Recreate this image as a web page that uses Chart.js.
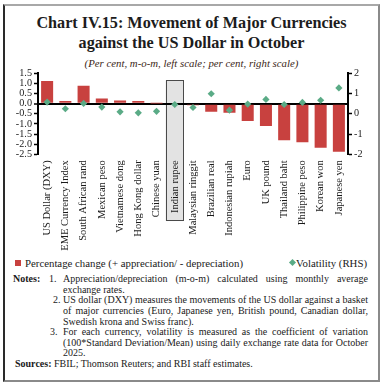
<!DOCTYPE html>
<html>
<head>
<meta charset="utf-8">
<script src="https://cdn.jsdelivr.net/npm/chart.js@4/dist/chart.umd.min.js"></script>
<style>
  html, body { margin:0; padding:0; background:#fff; overflow:hidden; }
  body { width:383px; height:385px; position:relative; font-family:"Liberation Serif", serif; color:#1a1a1a; }
  .frame { position:absolute; left:3px; top:4px; width:373px; height:374px;
    border-style:solid; border-width:2px; border-color:#a8a8a8 #8a8a8a #8a8a8a #2a2a2a; }
  .title { position:absolute; left:0; width:383px; text-align:center; font-weight:bold; font-size:16.2px; line-height:20px; color:#1c1c1c; }
  .sub { position:absolute; left:0; width:383px; top:57px; text-align:center; font-style:italic; font-size:10.8px; line-height:12px; color:#3b2616; }
  #wrap { position:absolute; left:0; top:66px; width:383px; height:190px; }
  .leg { position:absolute; font-size:10.8px; line-height:12px; white-space:nowrap; }
  .sq { position:absolute; left:15px; top:259.5px; width:6px; height:6px; background:#c8413f; }
  .dia { position:absolute; left:289.5px; top:259.5px; width:5px; height:5px; background:#5aab86; transform:rotate(45deg); }
  .notes { position:absolute; left:15px; top:274.2px; width:353px; font-size:10px; line-height:10.6px; }
  .row { position:relative; padding-left:48px; }
  .row .ln { text-align:justify; text-align-last:justify; white-space:nowrap; }
  .row .ln.last { text-align-last:left; }
  .lab { position:absolute; left:-2px; top:0; font-weight:bold; }
  .num { position:absolute; top:0; }
</style>
</head>
<body>
<div class="frame"></div>
<div class="title" style="top:13px;">Chart IV.15: Movement of Major Currencies</div>
<div class="title" style="top:33px;">against the US Dollar in October</div>
<div class="sub">(Per cent, m-o-m, left scale; per cent, right scale)</div>
<div id="wrap"><canvas id="c" width="383" height="190"></canvas></div>
<div class="sq"></div>
<div class="leg" style="left:25px; top:256.5px;">Percentage change (+ appreciation/ - depreciation)</div>
<div class="dia"></div>
<div class="leg" style="right:16px; top:256.5px;">Volatility (RHS)</div>
<div class="notes">
  <div class="row"><span class="lab">Notes:</span><span class="num" style="left:34px;">1.</span>
    <div class="ln">Appreciation/depreciation (m-o-m) calculated using monthly average</div>
    <div class="ln last">exchange rates.</div></div>
  <div class="row"><span class="num" style="left:38px;">2.</span>
    <div class="ln">US dollar (DXY) measures the movements of the US dollar against a basket</div>
    <div class="ln">of major currencies (Euro, Japanese yen, British pound, Canadian dollar,</div>
    <div class="ln last">Swedish krona and Swiss franc).</div></div>
  <div class="row"><span class="num" style="left:35px;">3.</span>
    <div class="ln">For each currency, volatility is measured as the coefficient of variation</div>
    <div class="ln">(100*Standard Deviation/Mean) using daily exchange rate data for October</div>
    <div class="ln last">2025.</div></div>
  <div style="white-space:nowrap;"><b>Sources:</b> FBIL; Thomson Reuters; and RBI staff estimates.</div>
</div>
<script>
const categories = ["US Dollar (DXY)", "EME Currency Index", "South African rand", "Mexican peso",
  "Vietnamese dong", "Hong Kong dollar", "Chinese yuan", "Indian rupee", "Malaysian ringgit",
  "Brazilian real", "Indonesian rupiah", "Euro", "UK pound", "Thailand baht", "Philippine peso",
  "Korean won", "Japanese yen"];
const pctChange = [1.12, 0.13, 0.88, 0.26, 0.16, 0.13, 0.01, -0.05, -0.08, -0.40, -0.45, -0.86, -1.10, -1.80, -1.90, -2.18, -2.37];
const volatility = [0.58, 0.25, 0.51, 0.33, 0.10, 0.05, 0.12, 0.46, 0.31, 0.99, 0.18, 0.48, 0.71, 0.46, 0.56, 0.67, 1.28];
const leftRange = [-2.5, 1.5];
const leftStep = 0.5;
const rightRange = [-2, 2];
const rightStep = 1;
const highlightCategory = "Indian rupee";

const FONT = '"Liberation Serif", serif';
const highlightPlugin = {
  id: 'highlight',
  beforeDraw(chart) {
    const x = chart.scales.x;
    const y = chart.scales.y;
    const i = categories.indexOf(highlightCategory);
    if (i < 0) return;
    const cx = x.getPixelForValue(i);
    const w = x.width / categories.length;
    const ctx = chart.ctx;
    ctx.save();
    ctx.font = '10.5px ' + FONT;
    const tw = ctx.measureText(highlightCategory).width;
    const top = y.top + 7;
    const bottom = x.top + 6 + tw + 8;
    ctx.fillStyle = '#e3e3e3';
    ctx.fillRect(cx - w / 2, top, w, bottom - top);
    ctx.strokeStyle = '#4a4a4a';
    ctx.lineWidth = 1;
    ctx.strokeRect(Math.round(cx - w / 2) + 0.5, Math.round(top) + 0.5, Math.round(w) - 1, Math.round(bottom - top) - 1);
    ctx.restore();
  }
};

new Chart(document.getElementById('c'), {
  data: {
    labels: categories,
    datasets: [
      { type: 'line', label: 'Volatility (RHS)', data: volatility, yAxisID: 'y2', showLine: false,
        pointStyle: 'rectRot', pointRadius: 3.6, pointBackgroundColor: '#5aab86', pointBorderColor: '#5aab86',
        pointBorderWidth: 0, order: 0 },
      { type: 'bar', label: 'Percentage change (+ appreciation/ - depreciation)', data: pctChange, yAxisID: 'y',
        backgroundColor: '#c8413f', barPercentage: 0.66, categoryPercentage: 1, order: 1 }
    ]
  },
  options: {
    responsive: false, animation: false, devicePixelRatio: 1,
    layout: { padding: { top: 7.3, bottom: 0, left: 0, right: 0 } },
    plugins: { legend: { display: false }, tooltip: { enabled: false } },
    scales: {
      x: {
        grid: { display: false, drawTicks: false }, border: { display: false },
        ticks: { autoSkip: false, minRotation: 90, maxRotation: 90, padding: 6, color: '#1a1a1a',
          font: { family: FONT, size: 10.5 } },
        afterFit: s => { s.height = 101.7; }
      },
      y: {
        position: 'left', min: leftRange[0], max: leftRange[1],
        ticks: { stepSize: leftStep, autoSkip: false, padding: 2, color: '#1a1a1a',
          font: { family: FONT, size: 10.2, lineHeight: 1 },
          callback: v => v.toFixed(1) },
        grid: { color: c => (c.tick && c.tick.value === 0) ? '#000' : 'rgba(0,0,0,0)',
          lineWidth: c => (c.tick && c.tick.value === 0) ? 2 : 1,
          tickColor: '#000', tickLength: 4, tickWidth: 1.5 },
        border: { display: true, color: '#000', width: 2 },
        afterFit: s => { s.width = 38; }
      },
      y2: {
        position: 'right', min: rightRange[0], max: rightRange[1],
        ticks: { stepSize: rightStep, autoSkip: false, padding: 2, color: '#1a1a1a',
          font: { family: FONT, size: 10.2, lineHeight: 1 } },
        grid: { drawOnChartArea: false, color: '#000', tickColor: '#000', tickLength: 4, tickWidth: 1.5 },
        border: { display: true, color: '#000', width: 2 },
        afterFit: s => { s.width = 35; }
      }
    }
  },
  plugins: [highlightPlugin]
});
</script>
</body>
</html>
